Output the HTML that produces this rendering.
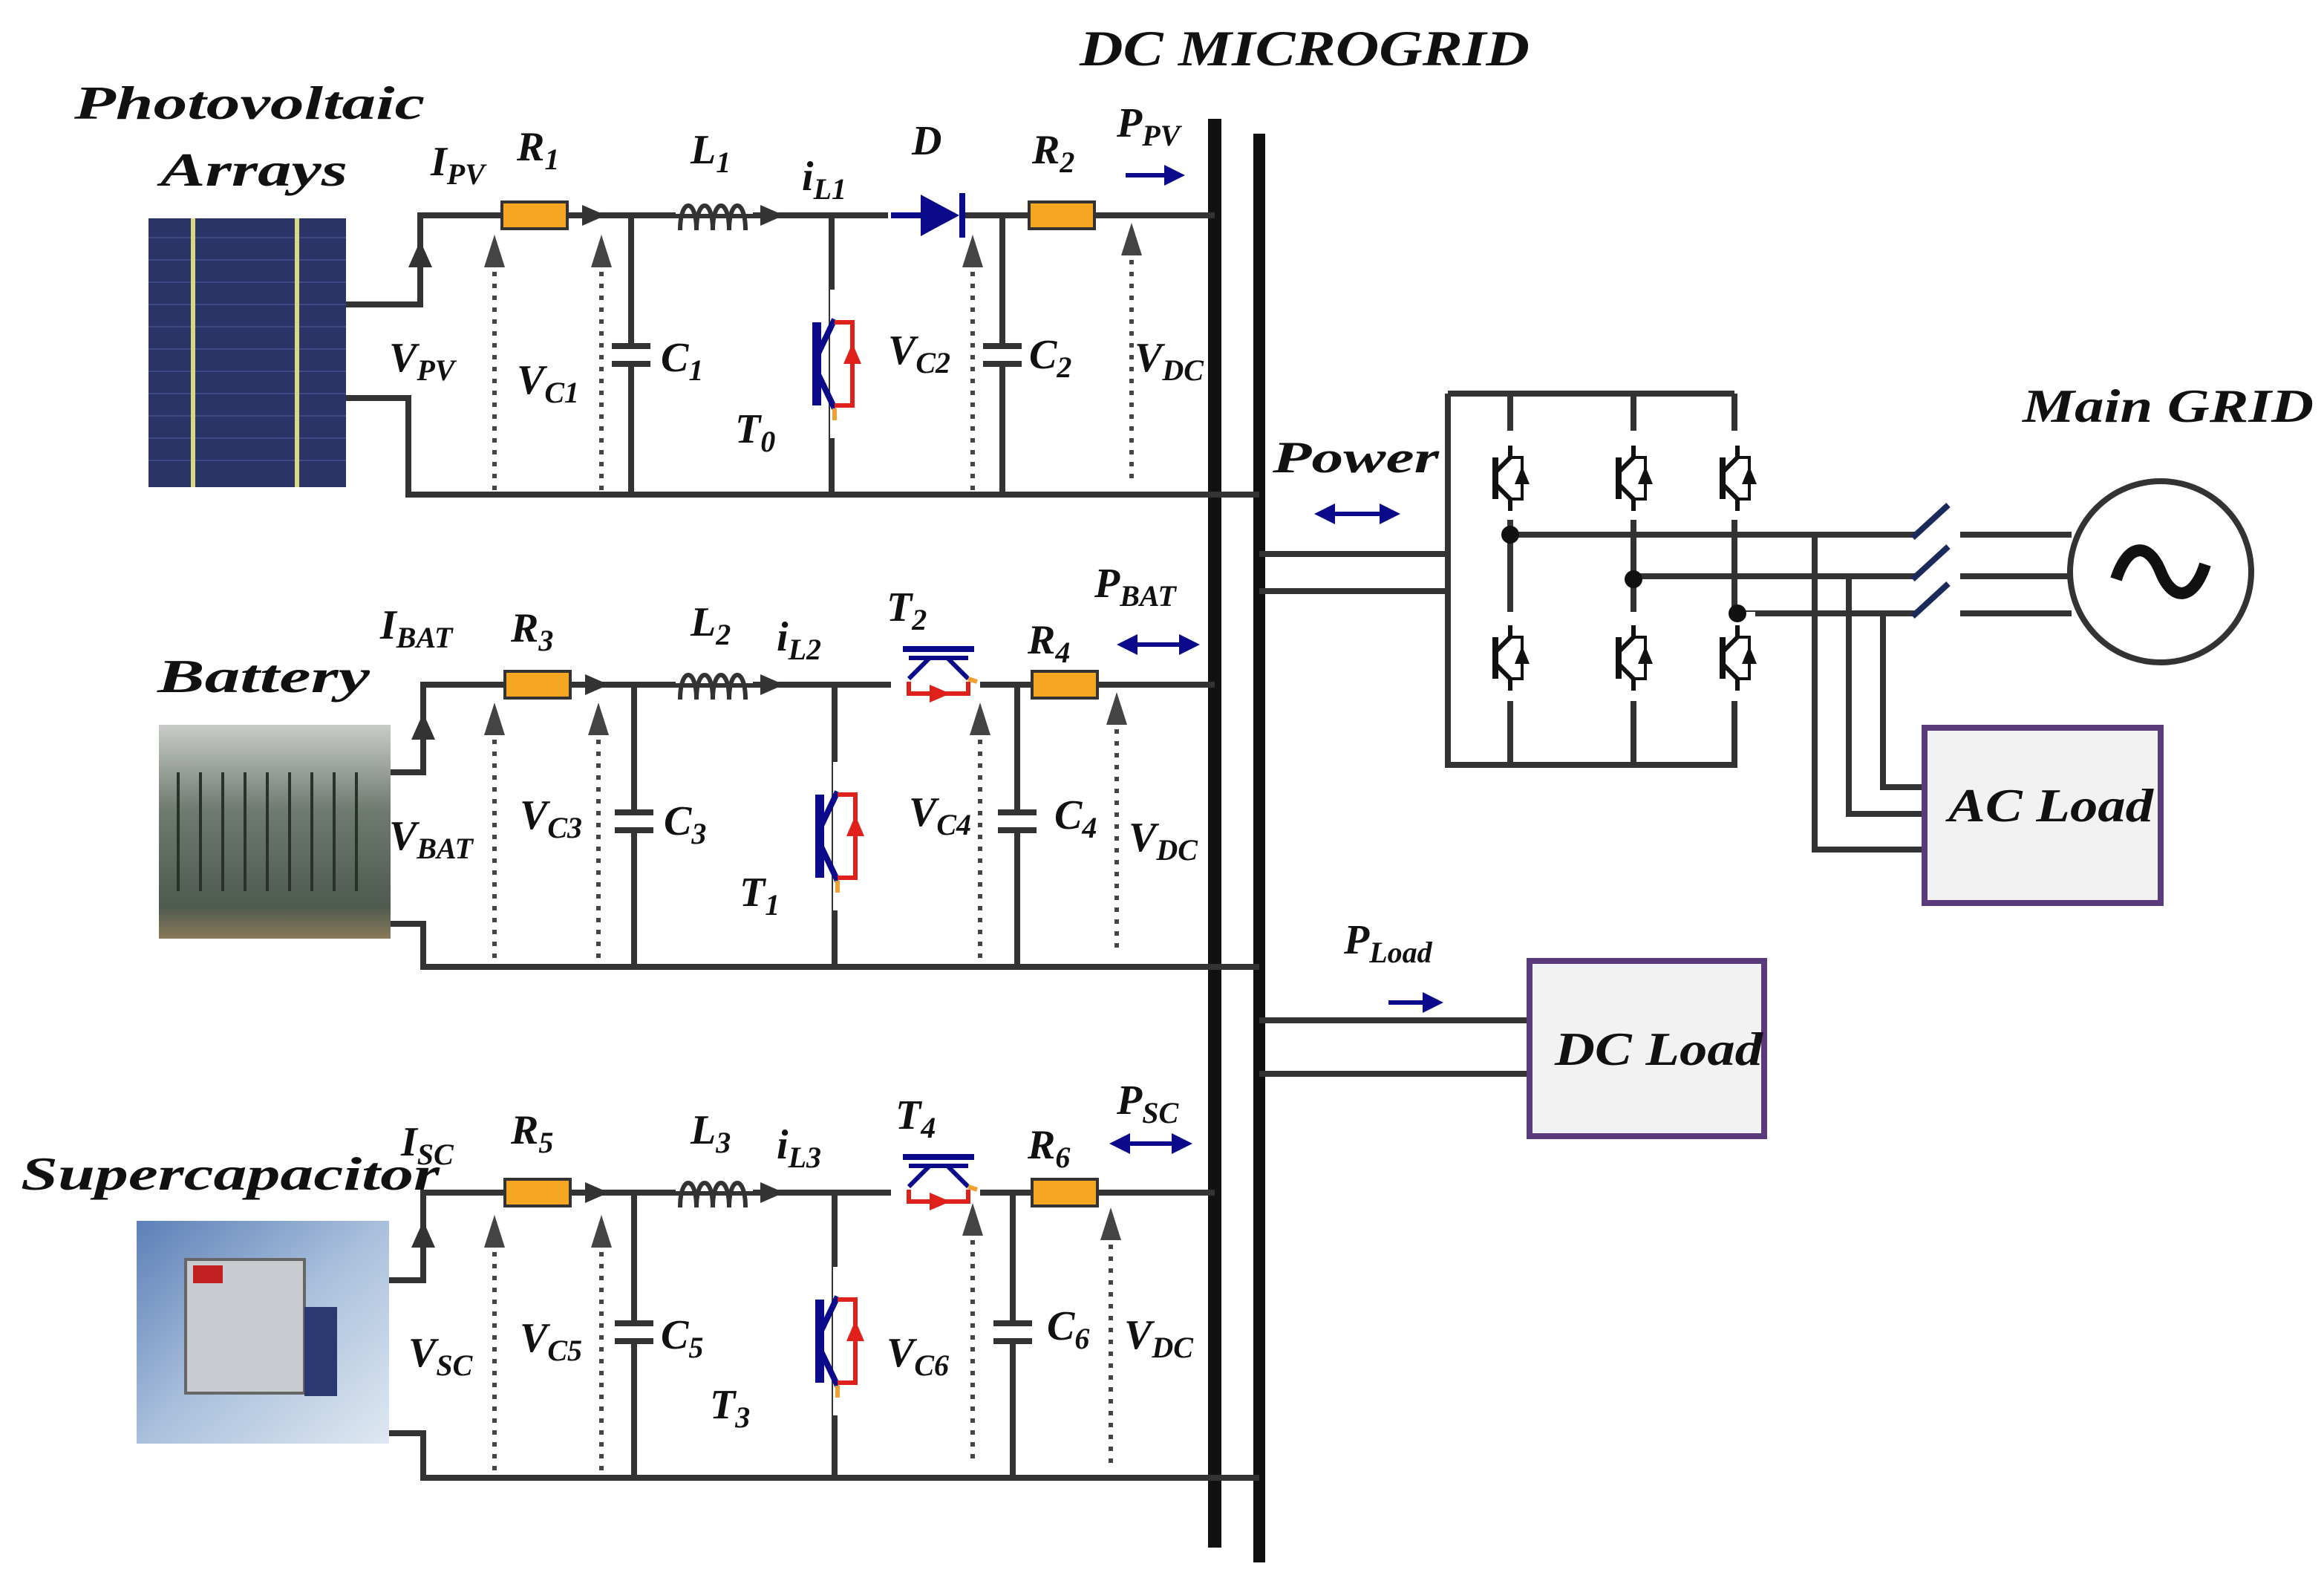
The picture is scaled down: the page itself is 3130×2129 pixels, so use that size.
<!DOCTYPE html>
<html><head><meta charset="utf-8"><style>
html,body{margin:0;padding:0;background:#fff}
svg{display:block}
text{font-family:"Liberation Serif",serif;font-weight:bold;font-style:italic;fill:#111}
</style></head><body>
<svg width="3130" height="2129" viewBox="0 0 1565 1064.5" xmlns="http://www.w3.org/2000/svg">
<defs>
<linearGradient id="sc" x1="0" y1="0" x2="1" y2="1"><stop offset="0" stop-color="#5d7fb8"/><stop offset="0.5" stop-color="#a9c0dc"/><stop offset="1" stop-color="#dfe8f2"/></linearGradient>
<linearGradient id="bat" x1="0" y1="0" x2="0" y2="1"><stop offset="0" stop-color="#c9ccc8"/><stop offset="0.4" stop-color="#6f7a70"/><stop offset="0.85" stop-color="#4e5a50"/><stop offset="1" stop-color="#8a7a5a"/></linearGradient>
<g id="res"><rect x="0" y="-9" width="44" height="18" fill="#f5a623" stroke="#333" stroke-width="2"/></g>
<g id="ind" fill="none" stroke="#333" stroke-width="3">
<path d="M0,0 c0,-22 11,-22 11,0 c0,-22 11,-22 11,0 c0,-22 11,-22 11,0 c0,-22 11,-22 11,0"/></g>
<g id="arr"><path d="M-8,-7 L8,0 L-8,7 Z" fill="#333"/></g>
<g id="cap" stroke="#333" stroke-width="4"><line x1="-13" y1="-6" x2="13" y2="-6"/><line x1="-13" y1="6" x2="13" y2="6"/></g>
<g id="sw">
<rect x="-3" y="-50" width="4" height="100" fill="#fff"/>
<line x1="-12" y1="-28" x2="-12" y2="28" stroke="#0a0a8a" stroke-width="6"/>
<path d="M-12,-5 L0,-30 M-12,5 L0,30" stroke="#0a0a8a" stroke-width="4" fill="none"/>
<path d="M0,-28 H12 V28 H0" stroke="#e0201a" stroke-width="3" fill="none"/>
<path d="M12,-14 L18,0 H6 Z" fill="#e0201a"/>
<line x1="0" y1="30" x2="0" y2="38" stroke="#f0a030" stroke-width="3"/>
</g>
<g id="swh">
<line x1="-24" y1="-22" x2="24" y2="-22" stroke="#0a0a8a" stroke-width="4"/>
<line x1="-20" y1="-16" x2="20" y2="-16" stroke="#0a0a8a" stroke-width="3"/>
<path d="M-6,-16 L-20,-2 M6,-16 L20,-2" stroke="#0a0a8a" stroke-width="3"/>
<path d="M-20,0 V8 H20 V0" stroke="#e0201a" stroke-width="3" fill="none"/>
<path d="M-6,2 L8,8 L-6,14 Z" fill="#e0201a"/>
<path d="M20,-2 L26,0" stroke="#f0a030" stroke-width="3"/>
</g>
<g id="ig">
<line x1="-10" y1="-14" x2="-10" y2="14" stroke="#111" stroke-width="4"/>
<path d="M-10,-4 L0,-14 V-22 M-10,4 L0,14 V22" stroke="#111" stroke-width="3" fill="none"/>
<path d="M0,-14 H8 V14 H0" stroke="#111" stroke-width="2" fill="none"/>
<path d="M8,-8 L13,4 H3 Z" fill="#111"/>
</g>
<g id="dot"><line x1="0" y1="0" x2="0" y2="-150" stroke="#444" stroke-width="3" stroke-dasharray="3,5"/><path d="M-7,-150 L0,-172 L7,-150 Z" fill="#444"/></g>
</defs>

<text x="727" y="44" font-size="34" textLength="303" lengthAdjust="spacingAndGlyphs">DC MICROGRID</text>

<line x1="818" y1="80" x2="818" y2="1042" stroke="#111" stroke-width="9"/>
<line x1="848" y1="90" x2="848" y2="1052" stroke="#111" stroke-width="8"/>

<!-- PV -->
<text x="50" y="80" font-size="32" textLength="236" lengthAdjust="spacingAndGlyphs">Photovoltaic</text>
<text x="108" y="125" font-size="32" textLength="126" lengthAdjust="spacingAndGlyphs">Arrays</text>
<rect x="100" y="147" width="133" height="181" fill="#2a3466"/>
<g stroke="#3d4a85" stroke-width="1">
<path d="M100,160H233M100,175H233M100,190H233M100,205H233M100,220H233M100,235H233M100,250H233M100,265H233M100,280H233M100,295H233M100,310H233"/></g>
<line x1="130" y1="147" x2="130" y2="328" stroke="#d8d880" stroke-width="3"/>
<line x1="200" y1="147" x2="200" y2="328" stroke="#d8d880" stroke-width="3"/>
<g stroke="#333" stroke-width="4" fill="none">
<path d="M233,205 H283 V145 H818"/>
<path d="M233,268 H275 V333 H848"/>
<line x1="425" y1="145" x2="425" y2="232"/><line x1="425" y1="246" x2="425" y2="333"/>
<line x1="675" y1="145" x2="675" y2="232"/><line x1="675" y1="246" x2="675" y2="333"/>
<line x1="560" y1="145" x2="560" y2="333"/>
</g>
<path d="M275,180 L283,162 L291,180Z" fill="#333"/>
<use href="#res" x="338" y="145"/><use href="#arr" x="400" y="145"/>
<rect x="455" y="130" width="52" height="14" fill="#fff"/><use href="#ind" x="458" y="155"/>
<use href="#arr" x="520" y="145"/>
<rect x="598" y="138" width="52" height="14" fill="#fff"/>
<path d="M600,145 H620" stroke="#0a0a8a" stroke-width="4"/>
<path d="M620,131 L646,145 L620,159Z" fill="#0a0a8a"/><line x1="648" y1="130" x2="648" y2="160" stroke="#0a0a8a" stroke-width="4"/>
<use href="#res" x="693" y="145"/>
<use href="#cap" x="425" y="239"/><use href="#cap" x="675" y="239"/>
<use href="#sw" x="562" y="245"/>
<use href="#dot" x="333" y="330"/><use href="#dot" x="405" y="330"/><use href="#dot" x="655" y="330"/><use href="#dot" x="762" y="322"/>
<path d="M758,118 H790" stroke="#0a0a8a" stroke-width="3"/><path d="M784,111 L798,118 L784,125Z" fill="#0a0a8a"/>
<text x="290" y="118" font-size="28">I<tspan font-size="20" dy="6">PV</tspan></text>
<text x="348" y="108" font-size="28" font-weight="normal">R<tspan font-size="20" dy="6">1</tspan></text>
<text x="465" y="110" font-size="28">L<tspan font-size="20" dy="6">1</tspan></text>
<text x="540" y="128" font-size="28">i<tspan font-size="20" dy="6">L1</tspan></text>
<text x="614" y="104" font-size="28">D</text>
<text x="695" y="110" font-size="28">R<tspan font-size="20" dy="6">2</tspan></text>
<text x="752" y="92" font-size="28">P<tspan font-size="20" dy="6">PV</tspan></text>
<text x="262" y="250" font-size="28">V<tspan font-size="20" dy="6">PV</tspan></text>
<text x="348" y="265" font-size="28">V<tspan font-size="20" dy="6">C1</tspan></text>
<text x="445" y="250" font-size="28">C<tspan font-size="20" dy="6">1</tspan></text>
<text x="495" y="298" font-size="28">T<tspan font-size="20" dy="6">0</tspan></text>
<text x="598" y="245" font-size="28">V<tspan font-size="20" dy="6">C2</tspan></text>
<text x="693" y="248" font-size="28" font-weight="normal">C<tspan font-size="20" dy="6">2</tspan></text>
<text x="764" y="250" font-size="28">V<tspan font-size="20" dy="6">DC</tspan></text>

<!-- Battery -->
<text x="106" y="466" font-size="32" textLength="143" lengthAdjust="spacingAndGlyphs">Battery</text>
<rect x="107" y="488" width="156" height="144" fill="url(#bat)"/>
<g stroke="#2a302a" stroke-width="2"><path d="M120,520V600M135,520V600M150,520V600M165,520V600M180,520V600M195,520V600M210,520V600M225,520V600M240,520V600"/></g>
<g stroke="#333" stroke-width="4" fill="none">
<path d="M263,520 H285 V461 H818"/>
<path d="M263,622 H285 V651 H848"/>
<line x1="427" y1="461" x2="427" y2="546"/><line x1="427" y1="560" x2="427" y2="651"/>
<line x1="685" y1="461" x2="685" y2="546"/><line x1="685" y1="560" x2="685" y2="651"/>
<line x1="562" y1="461" x2="562" y2="651"/>
</g>
<path d="M277,498 L285,480 L293,498Z" fill="#333"/>
<use href="#res" x="340" y="461"/><use href="#arr" x="402" y="461"/>
<rect x="455" y="446" width="52" height="14" fill="#fff"/><use href="#ind" x="458" y="471"/>
<use href="#arr" x="520" y="461"/>
<rect x="600" y="450" width="60" height="20" fill="#fff"/><use href="#swh" x="632" y="459"/>
<use href="#res" x="695" y="461"/>
<use href="#cap" x="427" y="553"/><use href="#cap" x="685" y="553"/>
<use href="#sw" x="564" y="563"/>
<use href="#dot" x="333" y="645"/><use href="#dot" x="403" y="645"/><use href="#dot" x="660" y="645"/><use href="#dot" x="752" y="638"/>
<path d="M760,434 H800" stroke="#0a0a8a" stroke-width="3"/><path d="M766,427 L752,434 L766,441Z M794,427 L808,434 L794,441Z" fill="#0a0a8a"/>
<text x="256" y="430" font-size="28">I<tspan font-size="20" dy="6">BAT</tspan></text>
<text x="344" y="432" font-size="28">R<tspan font-size="20" dy="6">3</tspan></text>
<text x="465" y="428" font-size="28">L<tspan font-size="20" dy="6">2</tspan></text>
<text x="523" y="438" font-size="28">i<tspan font-size="20" dy="6">L2</tspan></text>
<text x="597" y="418" font-size="28">T<tspan font-size="20" dy="6">2</tspan></text>
<text x="692" y="440" font-size="28">R<tspan font-size="20" dy="6">4</tspan></text>
<text x="737" y="402" font-size="28">P<tspan font-size="20" dy="6">BAT</tspan></text>
<text x="262" y="572" font-size="28">V<tspan font-size="20" dy="6">BAT</tspan></text>
<text x="350" y="558" font-size="28">V<tspan font-size="20" dy="6">C3</tspan></text>
<text x="447" y="562" font-size="28">C<tspan font-size="20" dy="6">3</tspan></text>
<text x="498" y="610" font-size="28">T<tspan font-size="20" dy="6">1</tspan></text>
<text x="612" y="556" font-size="28">V<tspan font-size="20" dy="6">C4</tspan></text>
<text x="710" y="558" font-size="28">C<tspan font-size="20" dy="6">4</tspan></text>
<text x="760" y="573" font-size="28">V<tspan font-size="20" dy="6">DC</tspan></text>

<!-- Supercap -->
<text x="14" y="801" font-size="32" textLength="282" lengthAdjust="spacingAndGlyphs">Supercapacitor</text>
<rect x="92" y="822" width="170" height="150" fill="url(#sc)"/>
<rect x="125" y="848" width="80" height="90" fill="#c8ccd0" stroke="#666" stroke-width="2"/>
<rect x="130" y="852" width="20" height="12" fill="#c02020"/>
<rect x="205" y="880" width="22" height="60" fill="#2a3a70"/>
<g stroke="#333" stroke-width="4" fill="none">
<path d="M262,862 H285 V803 H818"/>
<path d="M262,965 H285 V995 H848"/>
<line x1="427" y1="803" x2="427" y2="890"/><line x1="427" y1="904" x2="427" y2="995"/>
<line x1="682" y1="803" x2="682" y2="890"/><line x1="682" y1="904" x2="682" y2="995"/>
<line x1="562" y1="803" x2="562" y2="995"/>
</g>
<path d="M277,840 L285,822 L293,840Z" fill="#333"/>
<use href="#res" x="340" y="803"/><use href="#arr" x="402" y="803"/>
<rect x="455" y="788" width="52" height="14" fill="#fff"/><use href="#ind" x="458" y="813"/>
<use href="#arr" x="520" y="803"/>
<rect x="600" y="792" width="60" height="20" fill="#fff"/><use href="#swh" x="632" y="801"/>
<use href="#res" x="695" y="803"/>
<use href="#cap" x="427" y="897"/><use href="#cap" x="682" y="897"/>
<use href="#sw" x="564" y="903"/>
<use href="#dot" x="333" y="990"/><use href="#dot" x="405" y="990"/><use href="#dot" x="655" y="982"/><use href="#dot" x="748" y="985"/>
<path d="M755,770 H795" stroke="#0a0a8a" stroke-width="3"/><path d="M761,763 L747,770 L761,777Z M789,763 L803,770 L789,777Z" fill="#0a0a8a"/>
<text x="270" y="778" font-size="28">I<tspan font-size="20" dy="6">SC</tspan></text>
<text x="344" y="770" font-size="28">R<tspan font-size="20" dy="6">5</tspan></text>
<text x="465" y="770" font-size="28">L<tspan font-size="20" dy="6">3</tspan></text>
<text x="523" y="780" font-size="28">i<tspan font-size="20" dy="6">L3</tspan></text>
<text x="603" y="760" font-size="28">T<tspan font-size="20" dy="6">4</tspan></text>
<text x="692" y="780" font-size="28">R<tspan font-size="20" dy="6">6</tspan></text>
<text x="752" y="750" font-size="28">P<tspan font-size="20" dy="6">SC</tspan></text>
<text x="275" y="920" font-size="28">V<tspan font-size="20" dy="6">SC</tspan></text>
<text x="350" y="910" font-size="28">V<tspan font-size="20" dy="6">C5</tspan></text>
<text x="445" y="908" font-size="28">C<tspan font-size="20" dy="6">5</tspan></text>
<text x="478" y="955" font-size="28">T<tspan font-size="20" dy="6">3</tspan></text>
<text x="597" y="920" font-size="28">V<tspan font-size="20" dy="6">C6</tspan></text>
<text x="705" y="902" font-size="28">C<tspan font-size="20" dy="6">6</tspan></text>
<text x="757" y="908" font-size="28">V<tspan font-size="20" dy="6">DC</tspan></text>

<!-- Inverter -->
<text x="857" y="318" font-size="30" textLength="112" lengthAdjust="spacingAndGlyphs">Power</text>
<path d="M895,346 H933" stroke="#0a0a8a" stroke-width="3"/><path d="M899,339 L885,346 L899,353Z M929,339 L943,346 L929,353Z" fill="#0a0a8a"/>
<g stroke="#333" stroke-width="4" fill="none">
<path d="M848,373 H975 M848,398 H975"/>
<path d="M975,265 H1168 M975,265 V515 H1170"/>
<path d="M1017,265 V515 M1100,265 V515 M1168,265 V515"/>
<path d="M1017,360 H1290 M1100,388 H1290 M1170,413 H1290"/>
<path d="M1320,360 H1395 M1320,388 H1395 M1320,413 H1395"/>
<path d="M1222,360 V572 H1296 M1245,388 V548 H1296 M1268,413 V530 H1296"/>
<path d="M848,687 H1030 M848,723 H1030"/>
</g>
<g fill="#fff"><rect x="1003" y="290" width="28" height="60"/><rect x="1086" y="290" width="28" height="60"/><rect x="1154" y="290" width="28" height="60"/><rect x="1003" y="412" width="28" height="60"/><rect x="1086" y="412" width="28" height="60"/><rect x="1154" y="412" width="28" height="60"/></g>
<use href="#ig" x="1017" y="322"/><use href="#ig" x="1100" y="322"/><use href="#ig" x="1170" y="322"/>
<use href="#ig" x="1017" y="443"/><use href="#ig" x="1100" y="443"/><use href="#ig" x="1170" y="443"/>
<circle cx="1017" cy="360" r="6" fill="#111"/><circle cx="1100" cy="390" r="6" fill="#111"/><circle cx="1170" cy="413" r="6" fill="#111"/>
<g stroke="#1a2a5a" stroke-width="4"><path d="M1288,362 L1312,340 M1288,390 L1312,368 M1288,415 L1312,393"/></g>
<circle cx="1455" cy="385" r="61" fill="#fff" stroke="#333" stroke-width="4"/>
<path d="M1425,390 c8,-25 22,-25 30,-5 c8,20 22,20 30,-5" fill="none" stroke="#111" stroke-width="8"/>
<text x="1362" y="284" font-size="32" textLength="196" lengthAdjust="spacingAndGlyphs">Main GRID</text>
<rect x="1296" y="490" width="159" height="118" fill="#f2f2f2" stroke="#5a3a7a" stroke-width="4"/>
<text x="1312" y="553" font-size="32" textLength="138" lengthAdjust="spacingAndGlyphs">AC Load</text>
<rect x="1030" y="647" width="158" height="118" fill="#f2f2f2" stroke="#5a3a7a" stroke-width="4"/>
<text x="1047" y="717" font-size="32" textLength="140" lengthAdjust="spacingAndGlyphs">DC Load</text>
<text x="905" y="642" font-size="28">P<tspan font-size="20" dy="6">Load</tspan></text>
<path d="M935,675 H962" stroke="#0a0a8a" stroke-width="3"/><path d="M958,668 L972,675 L958,682Z" fill="#0a0a8a"/>
</svg>
</body></html>
